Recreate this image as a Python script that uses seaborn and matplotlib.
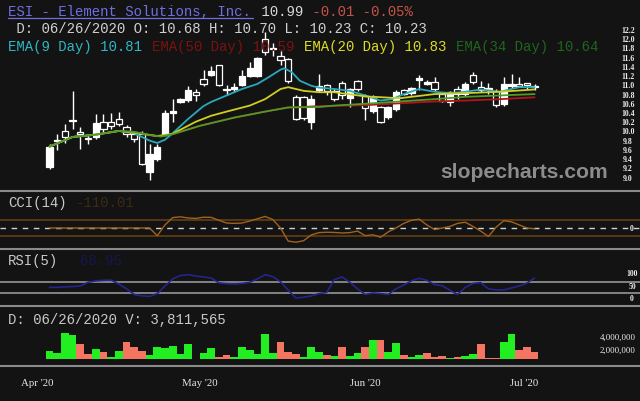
import matplotlib
matplotlib.use("Agg")
import matplotlib.pyplot as plt
import seaborn as sns
import pandas as pd
from matplotlib.lines import Line2D
from matplotlib.transforms import blended_transform_factory

# ---------------- data ----------------
opens = [9.22, 9.80, 10.00, 10.25, 9.99, 9.86, 9.87, 10.20, 10.21, 10.27,
         10.09, 9.95, 9.94, 9.11, 9.40, 9.94, 10.40, 10.63, 10.69, 10.85,
         11.13, 11.23, 11.43, 10.93, 10.92, 11.00, 11.21, 11.20, 12.00, 11.78,
         11.64, 11.57, 10.74, 10.74, 10.20, 10.89, 11.00, 10.88, 11.06, 10.72,
         11.09, 10.77, 10.45, 10.52, 10.31, 10.49, 10.89, 10.83, 11.12, 11.03,
         11.07, 10.81, 10.64, 10.93, 10.82, 11.22, 10.96, 10.92, 10.88, 10.60,
         10.98, 11.03, 11.04, 10.97]
highs = [9.73, 9.95, 10.16, 10.88, 10.09, 9.95, 10.38, 10.38, 10.40, 10.43,
         10.13, 10.00, 10.00, 9.73, 9.73, 10.47, 10.70, 10.72, 10.99, 10.92,
         11.33, 11.42, 11.45, 11.00, 11.05, 11.33, 11.50, 11.62, 12.15, 11.92,
         11.75, 11.60, 10.78, 10.77, 10.78, 11.25, 11.03, 10.92, 11.10, 10.95,
         11.12, 10.81, 10.78, 10.56, 10.56, 10.90, 10.92, 10.97, 11.22, 11.12,
         11.17, 10.85, 10.88, 10.99, 11.07, 11.28, 11.10, 11.06, 10.92, 11.17,
         11.25, 11.17, 11.06, 11.03]
lows = [9.19, 9.60, 9.75, 10.05, 9.62, 9.72, 9.84, 9.98, 10.05, 10.12,
        9.88, 9.78, 9.27, 8.94, 9.35, 9.90, 10.20, 10.62, 10.63, 10.66,
        10.98, 11.20, 10.98, 10.80, 10.85, 10.98, 11.18, 11.18, 11.65, 11.64,
        11.45, 11.05, 10.25, 10.24, 10.05, 10.85, 10.80, 10.66, 10.70, 10.52,
        10.88, 10.24, 10.40, 10.19, 10.27, 10.45, 10.78, 10.80, 10.90, 11.00,
        10.88, 10.63, 10.56, 10.70, 10.77, 11.03, 10.85, 10.81, 10.52, 10.56,
        10.95, 10.96, 10.93, 10.90]
closes = [9.67, 9.82, 9.87, 10.22, 9.95, 9.83, 10.18, 10.05, 10.12, 10.17,
          9.95, 9.84, 9.30, 9.51, 9.67, 10.41, 10.44, 10.70, 10.90, 10.78,
          11.03, 11.31, 11.00, 10.90, 10.96, 11.21, 11.37, 11.59, 11.72, 11.80,
          11.55, 11.10, 10.28, 10.30, 10.70, 10.98, 10.87, 10.71, 10.79, 10.92,
          10.93, 10.50, 10.72, 10.21, 10.52, 10.85, 10.82, 10.94, 11.15, 11.08,
          10.93, 10.67, 10.85, 10.81, 11.03, 11.08, 10.89, 10.94, 10.57, 11.03,
          11.03, 10.99, 11.00, 10.99]
volume_m = [1.2, 0.8, 4.0, 3.6, 2.2, 0.7, 1.5, 1.0, 0.3, 1.1,
            2.5, 1.8, 1.1, 0.6, 1.7, 1.6, 1.9, 0.7, 2.2, 0.0,
            0.8, 1.6, 0.3, 0.6, 0.2, 1.7, 1.3, 0.7, 3.8, 0.9,
            2.6, 1.0, 0.7, 0.3, 1.7, 1.0, 0.6, 0.4, 1.7, 0.4,
            0.9, 1.8, 2.8, 2.8, 1.0, 2.4, 0.5, 0.3, 0.5, 0.9,
            0.2, 0.4, 0.15, 0.3, 0.4, 0.7, 2.2, 0.05, 0.15, 2.5,
            3.8, 1.3, 1.7, 1.0]
volume_dir = ["up", "up", "up", "up", "down", "down", "up", "down", "up", "up",
              "down", "down", "down", "up", "up", "up", "up", "up", "up", "up",
              "up", "up", "down", "down", "up", "up", "up", "up", "up", "up",
              "down", "down", "down", "up", "up", "up", "down", "up", "down", "up",
              "up", "down", "up", "down", "up", "up", "down", "up", "up", "down",
              "down", "down", "up", "down", "up", "up", "down", "down", "down", "up",
              "up", "down", "down", "down"]

# EMA lines read at trading-day slots (1-based)
ema9_slot = [1, 4, 7, 10, 12, 14, 15, 16, 17, 19, 21, 22, 24, 26, 28, 29.5, 31, 31.5,
             32.5, 33.5, 35, 36, 38, 40, 42, 44, 45.5, 47, 49, 51, 53, 55, 57, 59.5, 62, 64]
ema9_val = [9.67, 9.88, 9.93, 10.01, 9.96, 9.80, 9.75, 9.82, 9.96, 10.27, 10.55, 10.64,
            10.78, 10.92, 11.03, 11.18, 11.34, 11.37, 11.28, 11.10, 10.99, 10.95, 10.92,
            10.88, 10.78, 10.67, 10.70, 10.81, 10.92, 10.86, 10.83, 10.86, 10.91, 10.86,
            10.96, 10.96]
ema20_slot = [1, 4, 7, 10, 13, 15, 17, 20, 22, 24, 27, 29, 31, 32, 34, 36, 38, 42,
              46.5, 51, 55, 59.5, 64]
ema20_val = [9.67, 9.88, 9.93, 10.01, 9.95, 9.90, 9.95, 10.21, 10.34, 10.43, 10.56,
             10.70, 10.92, 10.96, 10.88, 10.85, 10.85, 10.76, 10.72, 10.81, 10.83,
             10.86, 10.91]
ema34_slot = [1, 4, 7, 10, 12, 14, 15.5, 17, 20.5, 25, 29, 32, 36, 38, 42, 46.5, 51,
              55, 59.5, 64]
ema34_val = [9.67, 9.88, 9.93, 10.01, 9.99, 9.92, 9.89, 9.94, 10.12, 10.30, 10.43,
             10.52, 10.53, 10.56, 10.60, 10.65, 10.70, 10.75, 10.78, 10.81]
ema50_slot = [1, 4, 7, 10, 12, 14, 15.5, 17, 20.5, 25, 29, 32, 34, 36, 42, 46.5, 51,
              55, 59.5, 64]
ema50_val = [9.67, 9.88, 9.93, 10.01, 9.99, 9.92, 9.89, 9.94, 10.12, 10.30, 10.43,
             10.52, 10.53, 10.55, 10.57, 10.61, 10.65, 10.67, 10.70, 10.74]

cci = [0, 0, 0, 0, 0, 0, 0, 0, 0, 0, 0, 0, 0, 0, -100, 40, 135, 145, 130, 125,
       140, 138, 100, 65, 60, 65, 90, 120, 150, 110, 0, -170, -185, -165, -90, -60,
       -55, -58, -65, -60, -40, -100, -88, -120, -50, 0, 60, 100, 115, 40, -20, 0,
       20, 60, 75, 20, -40, -110, 10, 95, 80, 40, 0, -10]
rsi = [50, 50, 52, 53, 55, 68, 73, 75, 76, 62, 45, 25, 20, 18, 28, 55, 80, 92, 95, 90,
       87, 83, 66, 63, 62, 64, 68, 80, 95, 88, 70, 40, 12, 15, 20, 28, 32, 78, 87, 68,
       45, 25, 30, 28, 25, 45, 58, 73, 82, 75, 60, 56, 40, 25, 50, 64, 67, 45, 41, 41,
       48, 55, 65, 83]

price_ticks = [12.2, 12.0, 11.8, 11.6, 11.4, 11.2, 11.0, 10.8, 10.6, 10.4, 10.2,
               10.0, 9.8, 9.6, 9.4, 9.2, 9.0]
month_labels = ["Apr '20", "May '20", "Jun '20", "Jul '20"]
month_pos = [-1.6, 19.5, 41.0, 61.6]

# ---------------- style ----------------
BG = "#131313"
sns.set_style("dark")
plt.rcParams["font.family"] = ["Liberation Mono", "DejaVu Sans"]

W, H = 640.0, 402.0
fig = plt.figure(figsize=(6.4, 4.02), dpi=100, facecolor=BG)

STEP = 7.7
X0 = 49.5
XLIM = (-X0 / STEP, (W - X0) / STEP)


def make_ax(top, bottom):
    ax = fig.add_axes([0, 1 - bottom / H, 1, (bottom - top) / H])
    ax.set_xlim(*XLIM)
    ax.axis("off")
    return ax


idx = list(range(len(closes)))

# ---------------- price panel ----------------
axp = make_ax(0, 191)
axp.set_ylim(12.2 - 160 / 46.1, 12.2 + 31 / 46.1)
axp.vlines(idx, lows, highs, color="white", lw=1.0, zorder=2)
for i, (o, c) in enumerate(zip(opens, closes)):
    up = c >= o
    axp.bar(i, max(abs(c - o), 0.012), bottom=min(o, c), width=0.82,
            facecolor="white" if up else BG, edgecolor="white", lw=0.9, zorder=3)

for xs, ys, col in [(ema50_slot, ema50_val, "#b3141a"),
                    (ema9_slot, ema9_val, "#2aa9bd"),
                    (ema20_slot, ema20_val, "#cfcf22"),
                    (ema34_slot, ema34_val, "#4e9a26")]:
    sns.lineplot(x=[s - 1 for s in xs], y=ys, color=col, lw=1.3, ax=axp,
                 zorder=5, errorbar=None)
axp.set_xlim(*XLIM)
axp.axis("off")

trp = blended_transform_factory(axp.transAxes, axp.transData)
for t in price_ticks:
    axp.text(628 / W, t, f"{t:.1f}", transform=trp, ha="center", va="center",
             fontsize=5.6, color="#ececec", family="Liberation Serif", weight="bold")

fig.text(524 / W, 1 - 173 / H, "slopecharts.com", ha="center", va="center",
         fontsize=15.2, color="#8c8c8c", family="Liberation Sans", weight="bold")

# ---------------- CCI panel ----------------
axc = make_ax(193, 249)
axc.set_ylim(-(249 - 229) / 7.7 * 100, (229 - 193) / 7.7 * 100)
axc.axhline(100, color="#6b4214", lw=1.1)
axc.axhline(-100, color="#6b4214", lw=1.1)
axc.axhline(0, color="#d0d0d0", lw=1.0, dashes=(4, 4))
sns.lineplot(x=idx, y=cci, color="#a0621e", lw=1.0, ax=axc, errorbar=None)
axc.set_xlim(*XLIM)
axc.axis("off")
fig.text(632 / W, 1 - 229 / H, "0", ha="center", va="center", fontsize=5.6,
         color="#ececec", family="Liberation Serif", weight="bold")

# ---------------- RSI panel ----------------
axr = make_ax(251, 306)
k = 0.2825
axr.set_ylim(-(306 - 302.5) / k, (302.5 - 251) / k)
axr.axhline(70, color="#8c8c8c", lw=1.3)
axr.axhline(30, color="#8c8c8c", lw=1.3)
sns.lineplot(x=idx, y=rsi, color="#24248e", lw=1.2, ax=axr, errorbar=None)
axr.set_xlim(*XLIM)
axr.axis("off")
for lab, yy in [("100", 274), ("50", 287), ("0", 299)]:
    fig.text(632 / W, 1 - yy / H, lab, ha="center", va="center", fontsize=5.6,
             color="#ececec", family="Liberation Serif", weight="bold")

# ---------------- Volume panel ----------------
axv = make_ax(308, 366)
vdf = pd.DataFrame({"i": idx, "vol": volume_m, "dir": volume_dir})
sns.barplot(data=vdf, x="i", y="vol", hue="dir", native_scale=True, dodge=False,
            palette={"up": "#22ee22", "down": "#f47562"}, width=1.0, linewidth=0,
            saturation=1, legend=False, ax=axv)
axv.set_xlim(*XLIM)
axv.set_ylim(-(366 - 359.5) / 6.5, (359.5 - 308) / 6.5)
axv.axis("off")
for lab, yy in [("4,000,000", 338), ("2,000,000", 351)]:
    fig.text(618 / W, 1 - yy / H, lab, ha="center", va="center", fontsize=6.4,
             color="#ececec", family="Liberation Serif")

# ---------------- separators ----------------
for yy in [192, 250, 307, 367]:
    fig.add_artist(Line2D([0, 1], [1 - yy / H, 1 - yy / H], transform=fig.transFigure,
                          color="#8a8a8a", lw=1.5))

# ---------------- date axis ----------------
for lab, pos in zip(month_labels, month_pos):
    fig.text((X0 + STEP * pos) / W, 1 - 384 / H, lab, ha="center", va="center",
             fontsize=7.8, color="#e6e6e6", family="Liberation Serif")

# ---------------- header texts ----------------
CW = 8.45
FS = 10.1


def put(char_i, base_y, s, col, x0=8):
    fig.text((x0 + CW * char_i) / W, 1 - base_y / H, s, ha="left", va="baseline",
             fontsize=FS, color=col, family="Liberation Mono")


put(0, 15.7, "ESI - Element Solutions, Inc.", "#6f6fe0")
fig.add_artist(Line2D([8 / W, (8 + CW * 29) / W], [1 - 19.3 / H, 1 - 19.3 / H],
                      transform=fig.transFigure, color="#6f6fe0", lw=0.9))
put(29, 15.7, " 10.99", "#d8d8d8")
put(35, 15.7, " -0.01 -0.05%", "#c4544a")
put(0, 33, " D: 06/26/2020 O: 10.68 H: 10.70 L: 10.23 C: 10.23", "#d0d0d0")
put(0, 51.5, "EMA(9 Day) 10.81", "#2fb6c6")
put(17, 51.5, "EMA(50 Day) 10.59", "#7e1010")
put(35, 51.5, "EMA(20 Day) 10.83", "#dcdc22")
put(53, 51.5, "EMA(34 Day) 10.64", "#1d661d")

put(0, 207.5, "CCI(14)", "#c8c8c8")
put(8, 207.5, "-110.01", "#3a2a16")
put(0, 265.5, "RSI(5)", "#c8c8c8")
fig.text(80 / W, 1 - 265.5 / H, "68.95", ha="left", va="baseline", fontsize=FS,
         color="#161650", family="Liberation Mono")
put(0, 324, "D: 06/26/2020 V: 3,811,565", "#c8c8c8")

fig.savefig("out.png", dpi=100, facecolor=BG)
